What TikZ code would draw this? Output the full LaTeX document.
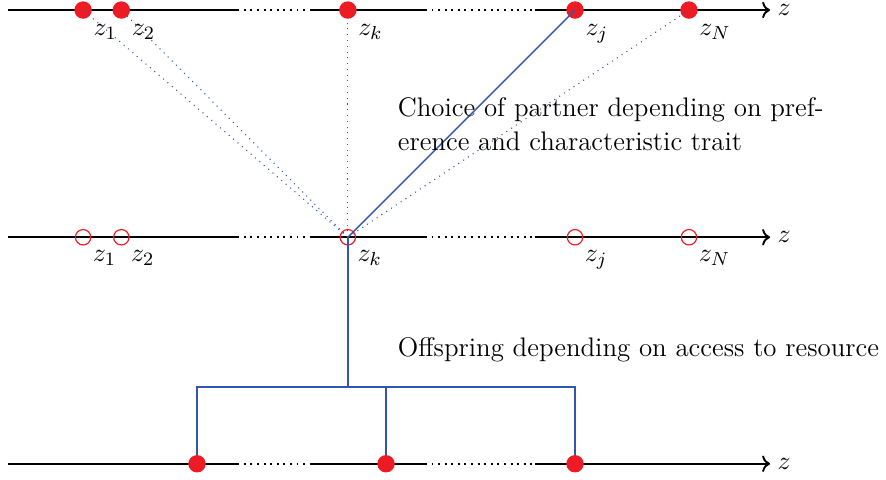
\documentclass[tikz,border=0pt]{standalone}
\usepackage{amsmath,amssymb}
\usepackage{xcolor}
\usepackage{tikz}
\usetikzlibrary{arrows.meta,positioning,calc}
\definecolor{TraitRed}{RGB}{237,28,36}
\definecolor{LinkBlue}{RGB}{50,85,175}
\tikzset{
  axisline/.style={black,line width=0.8pt},
  gapline/.style={black,line width=0.8pt,dotted},
  fulldot/.style={circle,fill=TraitRed,inner sep=0pt,minimum size=2.6mm},
  opendot/.style={circle,draw=TraitRed,line width=0.5pt,inner sep=0pt,minimum size=2.3mm},
  zlabel/.style={anchor=north west,inner sep=1.5pt,yshift=-1.5pt},
  choice/.style={LinkBlue,line width=0.45pt,dotted},
  partner/.style={LinkBlue,line width=0.6pt},
  offspring/.style={LinkBlue,line width=0.9pt},
  note/.style={anchor=west,align=left,inner sep=0pt},
}

\begin{document}
\begin{tikzpicture}[font=\fontsize{11.4}{14.6}\selectfont]
  \useasboundingbox (0,0) rectangle (13.22,7.16);
  % trait axes: parents, chosen individual, offspring
  \foreach \lev/\y in {top/7.01,mid/3.62,bot/0.24}{
    \coordinate (\lev-a) at (0.12,\y);
    \coordinate (\lev-b) at (3.54,\y);
    \coordinate (\lev-c) at (4.63,\y);
    \coordinate (\lev-d) at (6.34,\y);
    \coordinate (\lev-e) at (7.99,\y);
    \coordinate (\lev-f) at (11.49,\y);
    \draw[axisline] (\lev-a) -- (\lev-b);
    \draw[gapline] (\lev-b) -- (\lev-c);
    \draw[axisline] (\lev-c) -- (\lev-d);
    \draw[gapline] (\lev-d) -- (\lev-e);
    \draw[axisline,->] (\lev-e) -- (\lev-f);
    \node[anchor=west,inner sep=1pt,xshift=2pt] (\lev-z) at (\lev-f) {$z$};
  }
  \foreach \n/\x in {1/1.24,2/1.81,k/5.19,j/8.58,N/10.28}{
    \node[fulldot,label={[zlabel]south east:$z_\n$}] (t\n) at (\x,7.01) {};
    \node[opendot,label={[zlabel]south east:$z_\n$}] (m\n) at (\x,3.62) {};
  }
  \foreach \n/\x in {1/2.94,2/5.76,3/8.58}
    \node[fulldot] (b\n) at (\x,0.24) {};
  % partner choice
  \foreach \n in {1,2,k,N}
    \draw[choice] (mk.center) -- (t\n.center);
  \draw[partner] (mk.center) -- (tj.center);
  % offspring
  \coordinate (fork) at (5.19,1.38);
  \draw[offspring] (mk.center) -- (fork);
  \draw[offspring] (b1.north) -- (b1 |- fork) -- (b3 |- fork) -- (b3.north);
  \draw[offspring] (b2.north) -- (b2 |- fork);
  \node[note] (choicetxt) at (5.93,5.31) {Choice of partner depending on pref-\\erence and characteristic trait};
  \node[note] (offtxt) at (5.93,1.94) {Offspring depending on access to resource};
\end{tikzpicture}
\end{document}
